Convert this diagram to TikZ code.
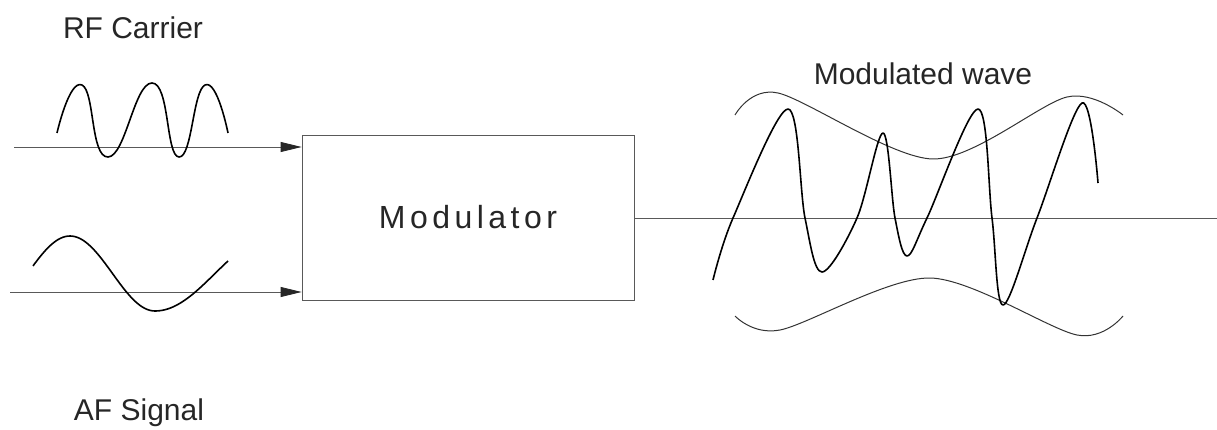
\documentclass[tikz,border=0pt]{standalone}
\usepackage{fontspec}
\setmainfont{Liberation Sans}
\usetikzlibrary{arrows.meta,positioning,calc}

\begin{document}
\begin{tikzpicture}[x=1pt, y=-1pt,
    labeltext/.style={font=\fontsize{30}{36}\selectfont, text=black!85},
    feed/.style={gray!70!black, line width=0.8pt, -{Triangle[length=21pt,width=10pt,color=black!85,fill=black!85]}},
    wave/.style={black, line width=1.6pt, line join=round},
    envelope/.style={black!80, line width=1pt}]
    \useasboundingbox (0,0) rectangle (1217,430);

    % Modulator block
    \node[draw=gray!70!black, line width=0.8pt, minimum width=332pt, minimum height=165pt,
          font=\fontsize{32}{36}\selectfont\addfontfeature{LetterSpace=14}, text=black!85]
          (mod) at (468,217.5) {Modulator\hspace{20pt}};

    % Inputs and output
    \coordinate (rfin) at (14,147);
    \coordinate (afin) at (10,292);
    \coordinate (out) at (1217,218);
    \draw[feed] (rfin) -- (rfin -| mod.west);
    \draw[feed] (afin) -- (afin -| mod.west);
    \draw[gray!70!black, line width=0.8pt] (mod.east |- out) -- (out);

    % Labels
    \node[labeltext] (rf) at (133,28) {RF Carrier};
    \node[labeltext] (af) at (139,413) {AF Signal};
    \node[labeltext] (mw) at (923,74) {Modulated wave};

    % RF carrier
    \draw[wave] plot[smooth, tension=0.9] coordinates {(57,133) (82,85) (108,157) (152,83) (179,157) (205,85) (228,133)};

    % AF signal
    \draw[wave] plot[domain=33:155, samples=50] (\x, {273.5 - 37.5*cos((\x-70)*180/85)})
        -- plot[domain=155:228, samples=30] (\x, {273.5 + 37.5*cos((\x-155)*180/120)});

    % Envelopes
    \draw[envelope] plot[smooth] coordinates {(735,115) (778,93) (933,159) (1067,97) (1123,115)};
    \draw[envelope] plot[smooth] coordinates {(735,316) (780,330) (930,278) (1077,335) (1123,316)};

    % Modulated wave
    \draw[wave] plot[smooth, tension=0.55] coordinates {(713,280) (733,218) (788,109) (805,218) (822,272)
        (857,218) (883,133) (895,218) (907,256) (927,218) (978,109) (992,218) (1003,305)
        (1037,218) (1082,103) (1098,183)};
\end{tikzpicture}
\end{document}
